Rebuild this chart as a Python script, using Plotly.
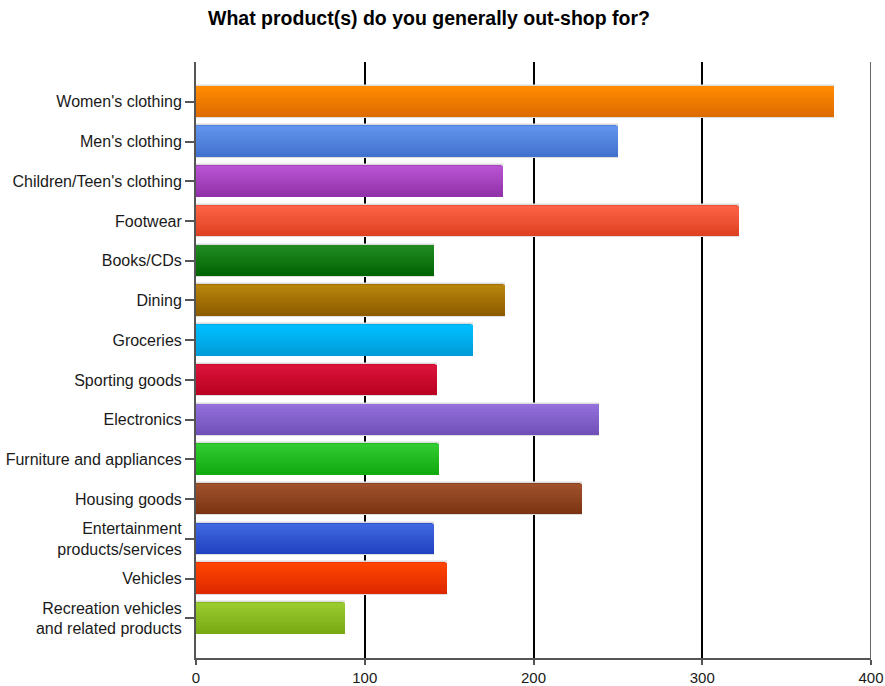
import plotly.graph_objects as go

categories = [
    "Women's clothing", "Men's clothing", "Children/Teen's clothing", "Footwear",
    "Books/CDs", "Dining", "Groceries", "Sporting goods", "Electronics",
    "Furniture and appliances", "Housing goods",
    "Entertainment<br>products/services", "Vehicles",
    "Recreation vehicles<br>and related products",
]
values = [378, 250, 182, 322, 141, 183, 164, 143, 239, 144, 229, 141, 149, 88]
x_ticks = [0, 100, 200, 300, 400]

top_colors = ["#FF8C00", "#6495ED", "#BA55D3", "#FF6347", "#228B22", "#B8860B",
              "#00BFFF", "#DC143C", "#9370DB", "#32CD32", "#A0522D", "#4169E1",
              "#FF4500", "#9ACD32"]
bot_colors = ["#DD6A00", "#4070CC", "#9030A8", "#DD4020", "#006400", "#8B5A00",
              "#009CD8", "#B80020", "#7050B8", "#10A810", "#7A3210", "#2040C0",
              "#DD2800", "#78A810"]

def hex2rgb(h):
    h = h.lstrip("#")
    return tuple(int(h[i:i + 2], 16) for i in (0, 2, 4))

def mix(a, b, t):
    ra, rb = hex2rgb(a), hex2rgb(b)
    return "rgb(%d,%d,%d)" % tuple(round(ra[i] + (rb[i] - ra[i]) * t) for i in range(3))

bar_w = 0.77
n_slices = 12
fig = go.Figure()
# base bar with light outline
fig.add_trace(go.Bar(
    y=categories, x=values, orientation="h", width=bar_w + 0.04,
    marker=dict(color=[mix(a, b, 0.5) for a, b in zip(top_colors, bot_colors)],
                line=dict(color="#DCDCDC", width=1.5)),
    hoverinfo="x+y", showlegend=False,
))
# gradient slices (reversed axis: negative offset = visually upper)
sw = bar_w / n_slices
for k in range(n_slices):
    t = (k + 0.5) / n_slices
    fig.add_trace(go.Bar(
        y=categories, x=values, orientation="h",
        width=sw * 1.02, offset=-bar_w / 2 + k * sw,
        marker=dict(color=[mix(a, b, t) for a, b in zip(top_colors, bot_colors)],
                    line=dict(width=0)),
        hoverinfo="skip", showlegend=False,
    ))

fig.add_shape(type="line", xref="x", yref="paper", x0=400, x1=400, y0=0, y1=1,
              line=dict(color="#666666", width=2), layer="above")

fig.update_layout(
    width=885, height=686,
    margin=dict(l=196, r=14, t=62, b=28, autoexpand=False),
    paper_bgcolor="white", plot_bgcolor="white",
    barmode="overlay", bargap=0,
    font=dict(family="Liberation Sans, Arial, sans-serif", size=16, color="#1a1a1a"),
    title=dict(text="<b>What product(s) do you generally out-shop for?</b>",
               x=429 / 885, xanchor="center", y=1 - 18 / 686, yanchor="middle",
               font=dict(size=19.5, color="#000000")),
    xaxis=dict(range=[0, 400], tickvals=x_ticks, showgrid=True, gridcolor="#000000",
               gridwidth=1.5, zeroline=False, showline=True, linecolor="#555555",
               linewidth=2, ticks="outside", ticklen=5, tickcolor="#555555",
               tickwidth=1.5, fixedrange=True, automargin=False,
               tickfont=dict(size=15)),
    yaxis=dict(type="category", categoryorder="array", categoryarray=categories,
               range=[13.999, -1.001], showgrid=False, zeroline=False, showline=True,
               linecolor="#555555", linewidth=2, ticks="outside", ticklen=9,
               tickcolor="#555555", tickwidth=1.5, fixedrange=True, automargin=False),
)

fig.write_html("out.html")
